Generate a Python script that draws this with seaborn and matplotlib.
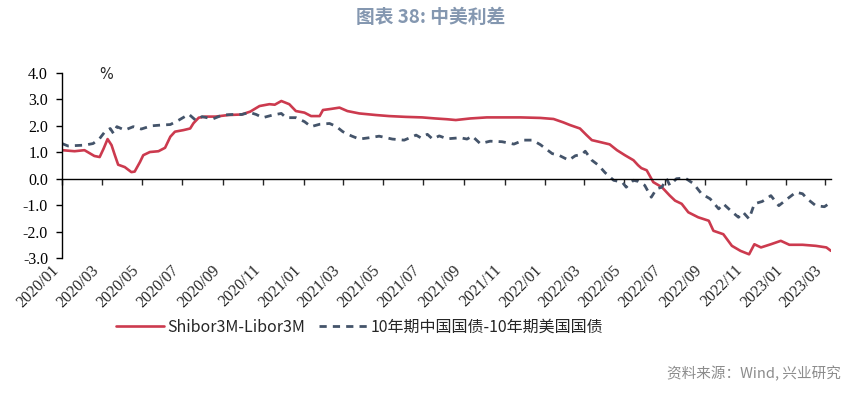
import matplotlib
matplotlib.use("Agg")
import matplotlib.pyplot as plt
import matplotlib.dates as mdates
import pandas as pd
import seaborn as sns

# Shibor3M - Libor3M (%)
red_dates = [
    "2020-01-01", "2020-01-20", "2020-02-04", "2020-02-19", "2020-02-27",
    "2020-03-04", "2020-03-10", "2020-03-16", "2020-03-21", "2020-03-26",
    "2020-04-05", "2020-04-15", "2020-04-20", "2020-04-28", "2020-05-03",
    "2020-05-13", "2020-05-26", "2020-06-05", "2020-06-13", "2020-06-20",
    "2020-07-03", "2020-07-13", "2020-07-18", "2020-07-26", "2020-08-05",
    "2020-08-20", "2020-09-09", "2020-09-29", "2020-10-12", "2020-10-26",
    "2020-11-10", "2020-11-18", "2020-11-28", "2020-12-10", "2020-12-20",
    "2021-01-02", "2021-01-12", "2021-01-25", "2021-01-30", "2021-02-11",
    "2021-02-24", "2021-03-08", "2021-03-26", "2021-04-20", "2021-05-10",
    "2021-06-04", "2021-06-29", "2021-07-19", "2021-08-06", "2021-08-19",
    "2021-09-10", "2021-10-05", "2021-10-31", "2021-11-25", "2021-12-25",
    "2022-01-14", "2022-01-29", "2022-02-08", "2022-02-23", "2022-03-05",
    "2022-03-13", "2022-03-25", "2022-04-09", "2022-04-20", "2022-05-02",
    "2022-05-15", "2022-05-22", "2022-05-27", "2022-06-04", "2022-06-14",
    "2022-06-27", "2022-07-09", "2022-07-17", "2022-07-27", "2022-08-06",
    "2022-08-21", "2022-09-06", "2022-09-13", "2022-09-28", "2022-10-11",
    "2022-10-24", "2022-11-06", "2022-11-14", "2022-11-24", "2022-12-09",
    "2022-12-24", "2023-01-06", "2023-01-26", "2023-02-15", "2023-03-03",
    "2023-03-10",
]
red_values = [
    1.08, 1.04, 1.08, 0.86, 0.82,
    1.14, 1.50, 1.27, 0.89, 0.53,
    0.44, 0.25, 0.27, 0.63, 0.89,
    1.01, 1.04, 1.17, 1.59, 1.78,
    1.84, 1.90, 2.10, 2.31, 2.35,
    2.35, 2.41, 2.43, 2.54, 2.75,
    2.82, 2.80, 2.94, 2.82, 2.56,
    2.50, 2.37, 2.37, 2.60, 2.64,
    2.69, 2.56, 2.47, 2.41, 2.37,
    2.34, 2.32, 2.28, 2.25, 2.22,
    2.28, 2.32, 2.32, 2.32, 2.30,
    2.26, 2.13, 2.03, 1.90, 1.65,
    1.46, 1.39, 1.30, 1.08, 0.89,
    0.70, 0.51, 0.40, 0.32, -0.13,
    -0.32, -0.64, -0.83, -0.95, -1.27,
    -1.46, -1.59, -1.97, -2.10, -2.54,
    -2.73, -2.86, -2.48, -2.60, -2.48,
    -2.35, -2.50, -2.50, -2.54, -2.60,
    -2.73,
]

# 10Y China govt bond - 10Y US Treasury (%)
blue_dates = [
    "2020-01-01", "2020-01-10", "2020-02-04", "2020-02-17", "2020-02-27",
    "2020-03-06", "2020-03-14", "2020-03-19", "2020-03-24", "2020-04-05",
    "2020-04-18", "2020-04-30", "2020-05-15", "2020-05-30", "2020-06-13",
    "2020-06-26", "2020-07-11", "2020-07-21", "2020-07-31", "2020-08-16",
    "2020-08-31", "2020-09-15", "2020-09-29", "2020-10-11", "2020-10-21",
    "2020-10-31", "2020-11-15", "2020-11-28", "2020-12-05", "2020-12-20",
    "2021-01-02", "2021-01-12", "2021-01-25", "2021-02-09", "2021-02-19",
    "2021-03-01", "2021-03-14", "2021-03-26", "2021-04-10", "2021-04-25",
    "2021-05-15", "2021-06-02", "2021-06-20", "2021-06-27", "2021-07-07",
    "2021-07-15", "2021-07-25", "2021-08-06", "2021-08-26", "2021-09-05",
    "2021-09-13", "2021-09-25", "2021-10-10", "2021-10-28", "2021-11-15",
    "2021-11-30", "2021-12-13", "2021-12-25", "2022-01-12", "2022-01-22",
    "2022-02-06", "2022-02-16", "2022-02-26", "2022-03-03", "2022-03-13",
    "2022-03-23", "2022-04-02", "2022-04-15", "2022-04-28", "2022-05-04",
    "2022-05-15", "2022-05-22", "2022-06-01", "2022-06-11", "2022-06-19",
    "2022-06-27", "2022-07-04", "2022-07-09", "2022-07-19", "2022-08-01",
    "2022-08-14", "2022-08-26", "2022-09-08", "2022-09-21", "2022-09-28",
    "2022-10-11", "2022-10-21", "2022-10-28", "2022-11-06", "2022-11-14",
    "2022-11-26", "2022-12-09", "2022-12-21", "2023-01-03", "2023-01-16",
    "2023-01-26", "2023-02-02", "2023-02-15", "2023-02-28", "2023-03-10",
]
blue_values = [
    1.33, 1.24, 1.27, 1.33, 1.52,
    1.78, 1.90, 1.71, 1.97, 1.84,
    1.97, 1.88, 2.00, 2.03, 2.05,
    2.22, 2.44, 2.22, 2.35, 2.26,
    2.41, 2.43, 2.43, 2.51, 2.43,
    2.31, 2.41, 2.47, 2.31, 2.31,
    2.16, 1.97, 2.06, 2.09, 1.98,
    1.78, 1.62, 1.50, 1.55, 1.61,
    1.50, 1.46, 1.65, 1.55, 1.68,
    1.50, 1.62, 1.51, 1.55, 1.50,
    1.61, 1.33, 1.42, 1.40, 1.31,
    1.46, 1.46, 1.29, 0.95, 0.89,
    0.70, 0.87, 0.92, 1.04, 0.70,
    0.51, 0.23, -0.06, -0.13, -0.32,
    -0.06, -0.10, -0.25, -0.70, -0.38,
    -0.32, 0.00, -0.25, 0.00, 0.03,
    -0.19, -0.57, -0.76, -1.14, -0.95,
    -1.25, -1.46, -1.27, -1.52, -0.95,
    -0.86, -0.64, -1.02, -0.76, -0.51,
    -0.57, -0.76, -1.02, -1.06, -0.89,
]

labels = ["Shibor3M-Libor3M", "10年期中国国债-10年期美国国债"]
y_ticks = [-3, -2, -1, 0, 1, 2, 3, 4]
x_ticks = pd.date_range("2020-01-01", "2023-03-01", freq="2MS")

red_df = pd.DataFrame({"date": pd.to_datetime(red_dates), "value": red_values})
blue_df = pd.DataFrame({"date": pd.to_datetime(blue_dates), "value": blue_values})

sns.set_style("ticks")
plt.rcParams["font.family"] = ["Noto Sans CJK SC", "DejaVu Sans"]
plt.rcParams["axes.unicode_minus"] = False

RED = "#cc3a4e"
BLUE = "#44546a"
SERIF = "Liberation Serif"

fig = plt.figure(figsize=(8.62, 3.94), dpi=100)
ax = fig.add_axes([62 / 862, 1 - 258 / 394, 769 / 862, 185 / 394])

sns.lineplot(data=red_df, x="date", y="value", ax=ax, color=RED,
             linewidth=1.9, label=labels[0])
sns.lineplot(data=blue_df, x="date", y="value", ax=ax, color=BLUE,
             linewidth=2.0, linestyle=(0, (2.6, 2.2)), label=labels[1])

ax.set_xlim(red_df["date"].min(), red_df["date"].max())
ax.set_ylim(-3, 4)
ax.set_xlabel("")
ax.set_ylabel("")

# y axis
ax.set_yticks(y_ticks, [f"{v:.1f}" for v in y_ticks])
ax.tick_params(axis="y", direction="out", length=4, width=1, pad=6,
               colors="black", labelsize=11.5, labelfontfamily=SERIF)

# x axis line sits on zero, labels stay at the bottom
ax.spines["bottom"].set_position(("data", 0))
ax.spines["top"].set_visible(False)
ax.spines["right"].set_visible(False)
for s in ("bottom", "left"):
    ax.spines[s].set_linewidth(1.0)
    ax.spines[s].set_color("black")
ax.set_xticks(x_ticks)
ax.tick_params(axis="x", direction="out", length=4, width=1,
               labelbottom=False)

sec = ax.secondary_xaxis("bottom")
sec.set_xticks(mdates.date2num(x_ticks),
               [d.strftime("%Y/%m") for d in x_ticks],
               rotation=45, ha="right", rotation_mode="default")
sec.spines["bottom"].set_visible(False)
sec.tick_params(axis="x", length=0, pad=3, labelsize=11.5,
                labelfontfamily=SERIF)

ax.text(0.058, 0.99, "%", transform=ax.transAxes, ha="center", va="center",
        fontsize=10.5, family="DejaVu Sans")

ax.get_legend().remove()
handles, _ = ax.get_legend_handles_labels()
fig.legend(handles, labels, loc="center", bbox_to_anchor=(0.417, 0.170),
           ncol=2, frameon=False, fontsize=11.5, handlelength=3.0,
           handletextpad=0.2, columnspacing=0.9)

fig.text(0.5, 0.955, "图表 38: 中美利差", ha="center", va="center",
         fontsize=13.5, fontweight="bold", color="#8497b0")
fig.text(0.975, 0.051, "资料来源：Wind, 兴业研究", ha="right", va="center",
         fontsize=10.5, color="#8c8c8c")

fig.savefig("out.png", dpi=100)
